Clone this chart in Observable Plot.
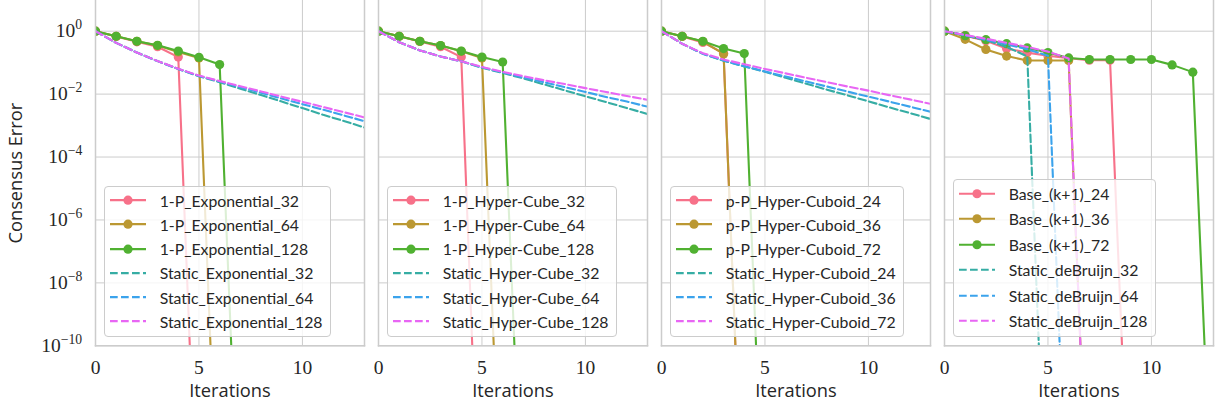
<!DOCTYPE html>
<html>
<head>
<meta charset="utf-8">
<script src="https://cdn.jsdelivr.net/npm/d3@7"></script>
<script src="https://cdn.jsdelivr.net/npm/@observablehq/plot@0.6"></script>
<style>
  body { margin: 0; background: #fff; }
  #wrap { position: relative; width: 1216px; height: 406px; font-family: "Open Sans", sans-serif; color: #262626; }
  #wrap svg [aria-label="y-axis tick label"], #wrap svg [aria-label="x-axis tick label"] { font-family: "Liberation Serif", serif; font-size: 19.5px; }
  #wrap svg [aria-label="y-axis label"] { font-family: "Open Sans", sans-serif; font-size: 18.3px; }
  .legend { position: absolute; background: rgba(255,255,255,0.8); border: 1px solid #cccccc; border-radius: 4px; box-sizing: border-box; padding: 1px 7px 2px 5.7px; }
  .row { display: flex; align-items: center; }
  .row svg { flex: none; margin-right: 13.3px; }
  .row span { font-family: Lato, "Open Sans", sans-serif; font-size: 15.8px; white-space: nowrap; color: #262626; }
</style>
</head>
<body>
<div id="wrap"></div>
<script>
// ---------- data ----------
const panels = ["Exponential", "Hyper-Cube", "Hyper-Cuboid", "deBruijn"];
const xTicks = [0, 5, 10];
const yTicks = [1e0, 1e-2, 1e-4, 1e-6, 1e-8, 1e-10];

const labelsExponential = ["1-P_Exponential_32", "1-P_Exponential_64", "1-P_Exponential_128", "Static_Exponential_32", "Static_Exponential_64", "Static_Exponential_128"];
const labelsHyperCube = ["1-P_Hyper-Cube_32", "1-P_Hyper-Cube_64", "1-P_Hyper-Cube_128", "Static_Hyper-Cube_32", "Static_Hyper-Cube_64", "Static_Hyper-Cube_128"];
const labelsHyperCuboid = ["p-P_Hyper-Cuboid_24", "p-P_Hyper-Cuboid_36", "p-P_Hyper-Cuboid_72", "Static_Hyper-Cuboid_24", "Static_Hyper-Cuboid_36", "Static_Hyper-Cuboid_72"];
const labelsDeBruijn = ["Base_(k+1)_24", "Base_(k+1)_36", "Base_(k+1)_72", "Static_deBruijn_32", "Static_deBruijn_64", "Static_deBruijn_128"];

// consensus error per iteration (index = iteration)
const exp1P32 = [1.0, 0.68, 0.46, 0.32, 0.15, 5e-18];
const exp1P64 = [1.0, 0.69, 0.48, 0.35, 0.22, 0.14, 6e-18];
const exp1P128 = [1.0, 0.69, 0.48, 0.355, 0.234, 0.148, 0.087, 1e-17];
const expStatic32 = [1.0, 0.427, 0.209, 0.112, 0.063, 0.037, 0.024, 0.0148, 0.0093, 0.0058, 0.0036, 0.0022, 0.0014, 0.00087];
const expStatic64 = [1.0, 0.427, 0.209, 0.112, 0.063, 0.038, 0.025, 0.0166, 0.011, 0.0072, 0.0048, 0.0032, 0.0021, 0.00138];
const expStatic128 = [1.0, 0.427, 0.209, 0.113, 0.064, 0.039, 0.026, 0.0178, 0.0122, 0.0083, 0.0057, 0.0039, 0.00266, 0.00182];

const cube1P32 = [1.0, 0.69, 0.47, 0.32, 0.15, 8e-19];
const cube1P64 = [1.0, 0.69, 0.48, 0.35, 0.23, 0.14, 1.3e-17];
const cube1P128 = [1.0, 0.69, 0.48, 0.35, 0.234, 0.151, 0.105, 1.6e-17];
const cubeStatic32 = [1.0, 0.447, 0.245, 0.158, 0.11, 0.069, 0.047, 0.0316, 0.0204, 0.0132, 0.0085, 0.0056, 0.0036, 0.00234];
const cubeStatic64 = [1.0, 0.447, 0.245, 0.158, 0.11, 0.071, 0.049, 0.0339, 0.024, 0.0166, 0.0117, 0.0081, 0.0058, 0.004];
const cubeStatic128 = [1.0, 0.447, 0.245, 0.158, 0.11, 0.073, 0.051, 0.0372, 0.0275, 0.0209, 0.0155, 0.0117, 0.0087, 0.0066];

const cuboidPP24 = [1.0, 0.68, 0.44, 0.20, 1e-17];
const cuboidPP36 = [1.0, 0.69, 0.47, 0.19, 1.2e-17];
const cuboidPP72 = [1.0, 0.69, 0.48, 0.28, 0.195, 1e-17];
const cuboidStatic24 = [1.0, 0.398, 0.191, 0.115, 0.0759, 0.0513, 0.0331, 0.0214, 0.0138, 0.0091, 0.0059, 0.0038, 0.0025, 0.00162];
const cuboidStatic36 = [1.0, 0.398, 0.191, 0.117, 0.0776, 0.0525, 0.0363, 0.0251, 0.0174, 0.012, 0.0083, 0.0058, 0.004, 0.00275];
const cuboidStatic72 = [1.0, 0.398, 0.2, 0.126, 0.089, 0.063, 0.0457, 0.0331, 0.024, 0.0174, 0.0129, 0.0093, 0.0068, 0.0049];

const base24 = [1.0, 0.724, 0.501, 0.282, 0.209, 0.166, 0.138, 0.12, 0.12, 2.5e-17];
const base36 = [1.0, 0.55, 0.263, 0.162, 0.117, 0.117, 0.117, 1.6e-17];
const base72 = [1.0, 0.72, 0.537, 0.40, 0.295, 0.209, 0.141, 0.126, 0.126, 0.126, 0.126, 0.085, 0.05, 2.5e-17];
const deBruijn32 = [1.0, 0.741, 0.525, 0.316, 0.158, 6e-18];
const deBruijn64 = [1.0, 0.741, 0.537, 0.38, 0.269, 0.166, 1e-17];
const deBruijn128 = [1.0, 0.759, 0.575, 0.427, 0.316, 0.224, 0.135, 1.3e-17];

// ---------- styles ----------
const colors = ["#f77189", "#bb9832", "#50b131", "#36ada4", "#3ba3ec", "#e866f4"];
const dash = "7.7,3.3";

const panelSeries = [
  [exp1P32, exp1P64, exp1P128, expStatic32, expStatic64, expStatic128],
  [cube1P32, cube1P64, cube1P128, cubeStatic32, cubeStatic64, cubeStatic128],
  [cuboidPP24, cuboidPP36, cuboidPP72, cuboidStatic24, cuboidStatic36, cuboidStatic72],
  [base24, base36, base72, deBruijn32, deBruijn64, deBruijn128]
];
const panelLabels = [labelsExponential, labelsHyperCube, labelsHyperCuboid, labelsDeBruijn];

const rows = [];
panelSeries.forEach((list, p) => list.forEach((vals, s) => vals.forEach((v, i) => rows.push({panel: panels[p], s, x: i, y: v}))));

const W = 1216, H = 406, mL = 95, mR = 3, mT = 0, mB = 60.7;
const bandW = 269, gap = 14;

const marks = [
  Plot.gridX(xTicks, {stroke: "#cccccc", strokeOpacity: 1, strokeWidth: 1}),
  Plot.gridY(yTicks, {stroke: "#cccccc", strokeOpacity: 1, strokeWidth: 1})
];
for (let s = 0; s < 6; s++) {
  const d = rows.filter(r => r.s === s);
  marks.push(Plot.line(d, {x: "x", y: "y", fx: "panel", stroke: colors[s], strokeWidth: 2.1,
    strokeDasharray: s >= 3 ? dash : undefined, strokeLinejoin: "round", clip: true}));
  if (s < 3) marks.push(Plot.dot(d, {x: "x", y: "y", fx: "panel", r: 4.6, fill: colors[s], stroke: "none", clip: true}));
}
marks.push(
  Plot.frame({anchor: "left", stroke: "#cccccc", strokeWidth: 1.5}),
  Plot.frame({anchor: "right", stroke: "#cccccc", strokeWidth: 1.5}),
  Plot.frame({anchor: "bottom", stroke: "#cccccc", strokeWidth: 1.5}),
  Plot.text(panels, {fx: d => d, text: () => "Iterations", frameAnchor: "bottom", dy: 38, lineAnchor: "top",
    fontSize: 18.3, fontFamily: "Open Sans", fill: "#262626"})
);

const chart = Plot.plot({
  width: W, height: H,
  marginLeft: mL, marginRight: mR, marginTop: mT, marginBottom: mB,
  style: {fontFamily: "Open Sans", fontSize: "18.3px", color: "#262626", background: "white"},
  fx: {domain: panels, axis: null, paddingInner: gap / (bandW + gap), paddingOuter: 0},
  x: {domain: [0, 13], ticks: xTicks, tickSize: 0, tickPadding: 14.5, label: null},
  y: {type: "log", domain: [1e-10, 9.46], ticks: yTicks, tickSize: 0, tickPadding: 13.3,
      tickFormat: d => String(Math.round(Math.log10(d))).replace("-", "\u2212"),
      label: "Consensus Error", labelAnchor: "center", labelArrow: "none", labelOffset: 87},
  marks
});

const wrap = document.getElementById("wrap");
wrap.appendChild(chart);

// superscript exponents for y tick labels
d3.select(chart).selectAll('[aria-label="y-axis tick label"] text').each(function () {
  const sel = d3.select(this);
  const e = sel.text();
  sel.text("10");
  sel.append("tspan").attr("dy", "-0.6em").style("font-size", "70%").text(e);
});

// legends
const fx = chart.scale("fx");
panels.forEach((p, pi) => {
  const left = fx.apply(p);
  const rowH = pi === 3 ? 25.5 : 24.3;
  const box = document.createElement("div");
  box.className = "legend";
  box.style.left = (left + 8.7) + "px";
  box.style.bottom = (H - 336.7) + "px";
  panelLabels[pi].forEach((lab, s) => {
    const row = document.createElement("div");
    row.className = "row";
    row.style.height = rowH + "px";
    const svg = d3.create("svg").attr("width", 36).attr("height", rowH);
    svg.append("line").attr("x1", 0).attr("x2", 36).attr("y1", rowH / 2).attr("y2", rowH / 2)
      .attr("stroke", colors[s]).attr("stroke-width", 2.1).attr("stroke-dasharray", s >= 3 ? dash : null);
    if (s < 3) svg.append("circle").attr("cx", 18).attr("cy", rowH / 2).attr("r", 4.6).attr("fill", colors[s]);
    row.appendChild(svg.node());
    const span = document.createElement("span");
    span.textContent = lab;
    row.appendChild(span);
    box.appendChild(row);
  });
  wrap.appendChild(box);
});
</script>
</body>
</html>
